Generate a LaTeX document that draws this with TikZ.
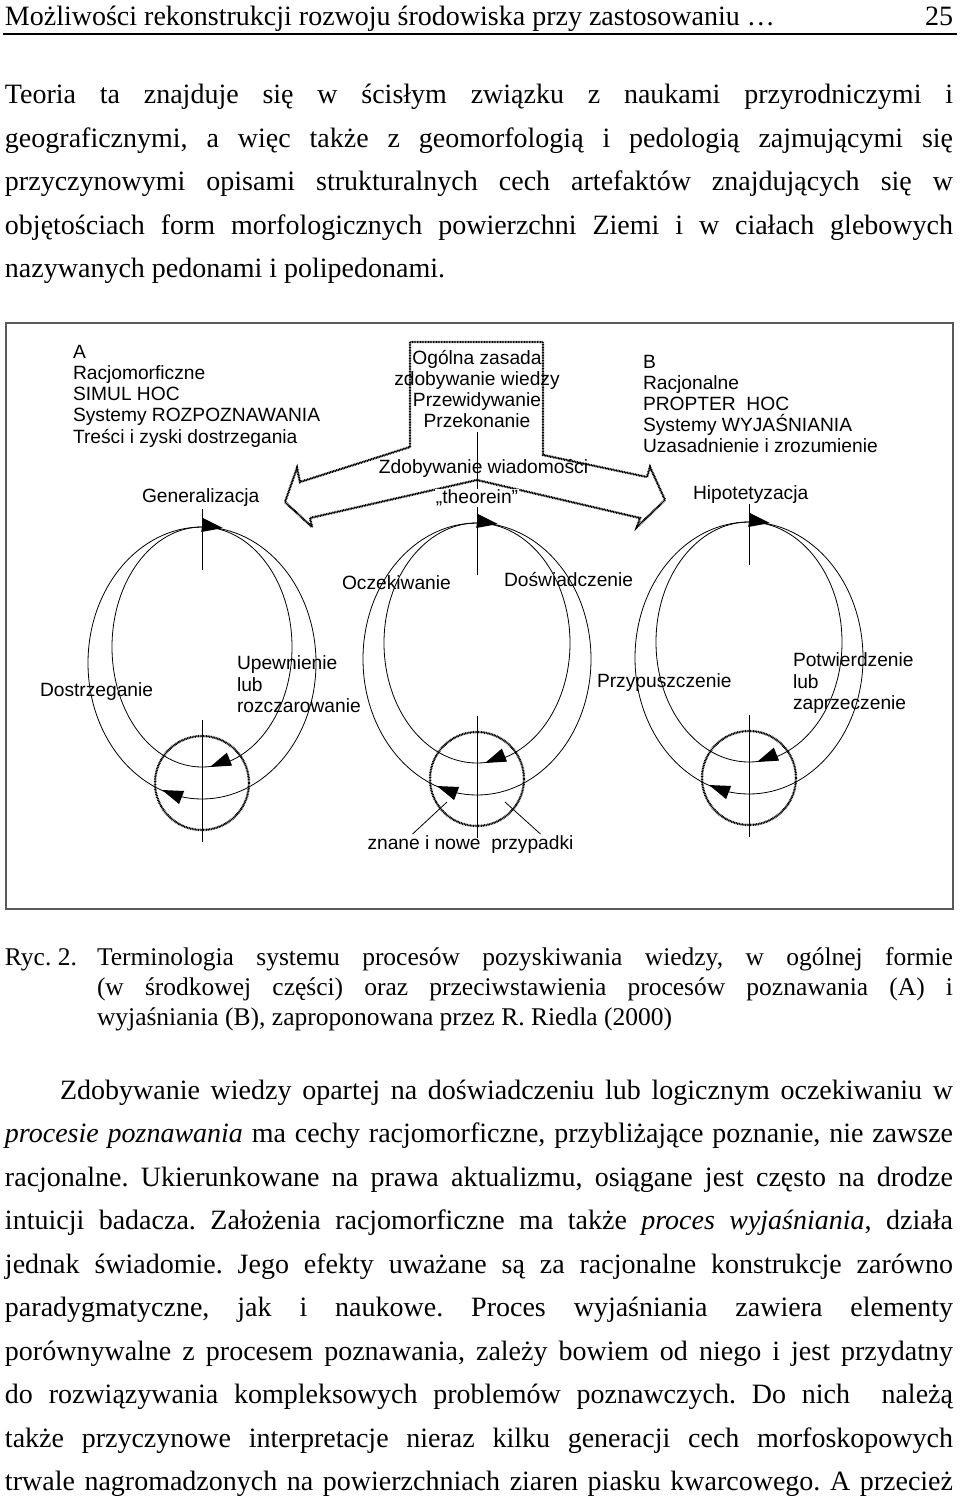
\documentclass[tikz,border=0pt]{standalone}
\usepackage{fontspec}
\setmainfont{Liberation Serif}
\newfontfamily\dsans{Liberation Sans}
\usetikzlibrary{calc}
\frenchspacing
\newcommand\jl[2]{\makebox[#1pt][s]{#2}}
\newcommand\drawloop[3]{%
  \draw[loopline] (#1,#2+136) ellipse [x radius=114, y radius=136];
  \draw[loopline] (#1,#2+120) ellipse [x radius=#3, y radius=120];
  \draw[loopline] (#1,#2-18) -- (#1,#2+43);
  \pic[rotate=-8] at (#1+21,#2+1) {ahead};
  \draw[line width=0.5pt] (#1,#2+256) circle[radius=47];
  \draw[hatch] (#1,#2+256) circle[radius=47];
  \draw[loopline] (#1,#2+193) -- (#1,#2+315);
  \pic[rotate=202] at (#1+8,#2+240) {ahead};
  \pic[rotate=159] at (#1-40,#2+263) {ahead};
}
\tikzset{
  every node/.style={inner sep=0pt, outer sep=0pt},
  body/.style={anchor=base west, font=\fontsize{28}{43.5}\selectfont},
  capt/.style={anchor=base west, font=\fontsize{25.5}{30}\selectfont},
  lab/.style={font=\dsans\fontsize{19.2}{21.2}\selectfont, align=left},
  loopline/.style={line width=0.8pt},
  hatch/.style={line width=2.4pt, dash pattern=on 0.8pt off 0.8pt},
  ahead/.pic={\fill (0,0) -- (-21,7) -- (-21,-7) -- cycle;},
}
\begin{document}
\begin{tikzpicture}[x=1pt,y=-1pt]
\useasboundingbox (0,0) rectangle (960,1499);
\fill[white] (0,0) rectangle (960,1499);

% header
\node[body, font=\fontsize{28}{30}\selectfont] (hdr) at (5,25) {Możliwości rekonstrukcji rozwoju środowiska przy zastosowaniu …};
\node[body, anchor=base east, font=\fontsize{28}{30}\selectfont] (pg) at (953,25) {25};
\coordinate (rl) at (3,34);
\coordinate (rr) at (957,34);
\draw[line width=1.4pt] (rl) -- (rr);

% paragraph 1
\node[body] (pa) at (5,103.5) {\jl{948}{Teoria ta znajduje się w ścisłym związku z naukami przyrodniczymi i}};
\node[body] (pb) at (5,147) {\jl{948}{geograficznymi, a więc także z geomorfologią i pedologią zajmującymi się}};
\node[body] (pc) at (5,190.5) {\jl{948}{przyczynowymi opisami strukturalnych cech artefaktów znajdujących się w}};
\node[body] (pd) at (5,234) {\jl{948}{objętościach form morfologicznych powierzchni Ziemi i w ciałach glebowych}};
\node[body] (pe) at (5,277.5) {nazywanych pedonami i polipedonami.};

% diagram frame
\draw[black!65, line width=1.6pt] (6,323) rectangle (953,909);

% big double arrow with box
\draw[line width=0.7pt, preaction={draw, hatch}]
  (410,447) -- (410,342) -- (543,342) -- (543,455) -- (647,477) -- (650,467)
  -- (665,500) -- (637,527) -- (640,518) -- (477,480) -- (310,518) -- (312,527)
  -- (285,502) -- (297,468) -- (300,482) -- cycle;
\draw[loopline] (477,432) -- (477,575);

% loops
\drawloop{202}{527}{90}
\drawloop{477}{523}{93}
\drawloop{749}{522}{93}

% texts in diagram
\node[lab, anchor=north west] (blA) at (73,345) {A\\Racjomorficzne\\SIMUL HOC\\Systemy ROZPOZNAWANIA\\Treści i zyski dostrzegania};
\node[lab, anchor=north west] (blB) at (643,354.8) {B\\Racjonalne\\PROPTER\ \ HOC\\Systemy WYJAŚNIANIA\\Uzasadnienie i zrozumienie};
\node[lab, align=center, anchor=north] (ctr) at (477,350) {Ogólna zasada\\zdobywanie wiedzy\\Przewidywanie\\Przekonanie};
\node[lab] (zdw) at (483.5,468) {Zdobywanie wiadomości};
\node[lab, fill=white, inner sep=1pt] (theo) at (477,498) {„theorein”};
\node[lab, anchor=west] (gen) at (142,498) {Generalizacja};
\node[lab, anchor=west] (hip) at (693,495) {Hipotetyzacja};
\node[lab, anchor=west] (ocz) at (342,583) {Oczekiwanie};
\node[lab, anchor=west] (dos) at (504,580) {Doświadczenie};
\node[lab, anchor=west] (dst) at (40,692) {Dostrzeganie};
\node[lab, anchor=north west] (upw) at (237,656) {Upewnienie\\lub\\rozczarowanie};
\node[lab, anchor=west] (prz) at (597,683) {Przypuszczenie};
\node[lab, anchor=north west] (pot) at (793,653) {Potwierdzenie\\lub\\zaprzeczenie};
\node[lab] (znp) at (470.5,845) {znane i nowe\ \ przypadki};
\coordinate (zn1) at (447,802);
\coordinate (zn2) at (505,802);
\path (znp.north west) ++(45,-2) coordinate (zs1);
\draw[loopline] (zs1) -- (zn1);
\path (znp.north east) ++(-33,-2) coordinate (zs2);
\draw[loopline] (zs2) -- (zn2);

% caption
\node[capt] (ryc) at (5,965) {Ryc. 2.};
\node[capt] (ca) at (97,965) {\jl{856}{Terminologia systemu procesów pozyskiwania wiedzy, w ogólnej formie}};
\node[capt] (cb) at (97,995) {\jl{856}{(w środkowej części) oraz przeciwstawienia procesów poznawania (A) i}};
\node[capt] (cc) at (97,1025) {wyjaśniania (B), zaproponowana przez R. Riedla (2000)};

% paragraph 2
\node[body] (qa) at (60,1099) {\jl{893}{Zdobywanie wiedzy opartej na doświadczeniu lub logicznym oczekiwaniu w}};
\node[body] (qb) at (5,1142.5) {\jl{948}{\textit{procesie poznawania} ma cechy racjomorficzne, przybliżające poznanie, nie zawsze}};
\node[body] (qc) at (5,1186) {\jl{948}{racjonalne. Ukierunkowane na prawa aktualizmu, osiągane jest często na drodze}};
\node[body] (qd) at (5,1229.5) {\jl{948}{intuicji badacza. Założenia racjomorficzne ma także \textit{proces wyjaśniania}, działa}};
\node[body] (qe) at (5,1273) {\jl{948}{jednak świadomie. Jego efekty uważane są za racjonalne konstrukcje zarówno}};
\node[body] (qf) at (5,1316.5) {\jl{948}{paradygmatyczne, jak i naukowe. Proces wyjaśniania zawiera elementy}};
\node[body] (qg) at (5,1360) {\jl{948}{porównywalne z procesem poznawania, zależy bowiem od niego i jest przydatny}};
\node[body] (qh) at (5,1403.5) {\jl{948}{do rozwiązywania kompleksowych problemów poznawczych. Do nich\ \ należą}};
\node[body] (qi) at (5,1447) {\jl{948}{także przyczynowe interpretacje nieraz kilku generacji cech morfoskopowych}};
\node[body] (qj) at (5,1490.5) {\jl{948}{trwale nagromadzonych na powierzchniach ziaren piasku kwarcowego. A przecież}};
\end{tikzpicture}
\end{document}
